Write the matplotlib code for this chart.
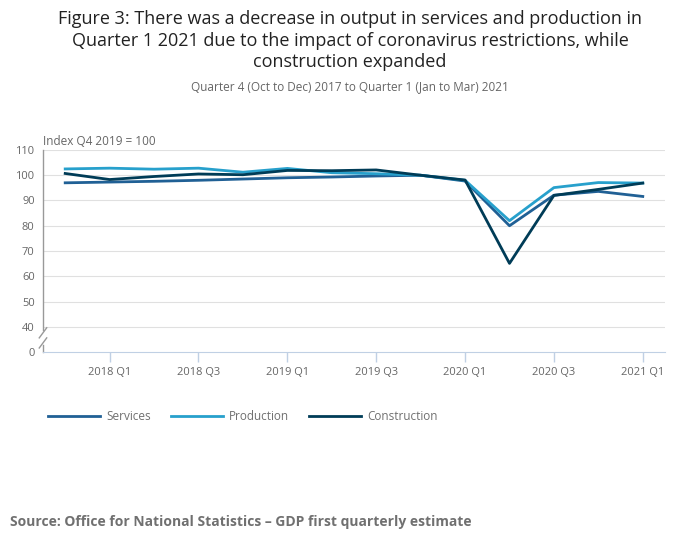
import matplotlib.pyplot as plt
import numpy as np

quarters = ["2017 Q4", "2018 Q1", "2018 Q2", "2018 Q3", "2018 Q4",
            "2019 Q1", "2019 Q2", "2019 Q3", "2019 Q4",
            "2020 Q1", "2020 Q2", "2020 Q3", "2020 Q4", "2021 Q1"]
services = [97.0, 97.3, 97.6, 98.0, 98.5, 99.0, 99.3, 99.7, 100.0,
            97.7, 80.0, 92.1, 93.6, 91.6]
production = [102.5, 102.8, 102.4, 102.8, 101.2, 102.7, 101.0, 100.6, 100.0,
              98.0, 82.0, 95.1, 97.1, 96.9]
construction = [100.7, 98.3, 99.5, 100.5, 100.2, 101.9, 101.8, 102.1, 100.0,
                98.1, 65.1, 92.0, 94.4, 96.9]
tick_labels = ["2018 Q1", "2018 Q3", "2019 Q1", "2019 Q3", "2020 Q1", "2020 Q3", "2021 Q1"]

plt.rcParams['font.family'] = ['Open Sans', 'DejaVu Sans']

fig = plt.figure(figsize=(7, 5.49), dpi=100)
ax = fig.add_axes([0.0614, 0.3588, 0.8886, 0.368])

x = np.arange(len(quarters))
ax.plot(x, services, color='#206095', lw=2.0, label='Services', zorder=3)
ax.plot(x, production, color='#27a0cc', lw=2.0, label='Production', zorder=3)
ax.plot(x, construction, color='#003c57', lw=2.0, label='Construction', zorder=4)

# broken axis: 0 sits one step below 40
ax.set_ylim(30, 110)
ax.set_xlim(-0.5, len(quarters) - 0.5)
yt = [30, 40, 50, 60, 70, 80, 90, 100, 110]
ax.set_yticks(yt)
ax.set_yticklabels(["0"] + [str(v) for v in yt[1:]])
for v in yt[1:]:
    ax.axhline(v, color='#e0e0e0', lw=0.8, zorder=1)

xt = [quarters.index(t) for t in tick_labels]
ax.set_xticks(xt)
ax.set_xticklabels(tick_labels)

for s in ['top', 'right', 'left']:
    ax.spines[s].set_visible(False)
ax.spines['bottom'].set_color('#c0d0e4')
ax.tick_params(axis='x', colors='#c0d0e4', length=7, width=1, labelcolor='#666666', labelsize=8, pad=4)
ax.tick_params(axis='y', length=0, labelcolor='#666666', labelsize=8, pad=6)

# left spine with break marks
sp = dict(color='#999999', lw=1, transform=ax.transAxes, clip_on=False)
ax.plot([0, 0], [1, 0.11], **sp)
ax.plot([0, 0], [0.035, 0], **sp)
ax.plot([-0.006, 0.006], [0.07, 0.12], **sp)
ax.plot([-0.006, 0.006], [0.02, 0.07], **sp)

ax.text(0, 1.01, "Index Q4 2019 = 100", transform=ax.transAxes, fontsize=8.5,
        color='#666666', ha='left', va='bottom')

fig.text(0.5, 0.981, "Figure 3: There was a decrease in output in services and production in\n"
         "Quarter 1 2021 due to the impact of coronavirus restrictions, while\n"
         "construction expanded", ha='center', va='top', fontsize=13,
         color='#222222', linespacing=1.25)
fig.text(0.5, 0.843, "Quarter 4 (Oct to Dec) 2017 to Quarter 1 (Jan to Mar) 2021",
         ha='center', va='center', fontsize=8.5, color='#666666')

leg = fig.legend(loc='center left', bbox_to_anchor=(0.054, 0.242), ncol=3, frameon=False,
                 fontsize=8.5, handlelength=4.4, columnspacing=1.7, handletextpad=0.5)
for t in leg.get_texts():
    t.set_color('#707070')

fig.text(0.014, 0.049, "Source: Office for National Statistics \u2013 GDP first quarterly estimate",
         fontsize=10, fontweight='bold', color='#707070', ha='left', va='center')

plt.savefig("out.png", dpi=100)
